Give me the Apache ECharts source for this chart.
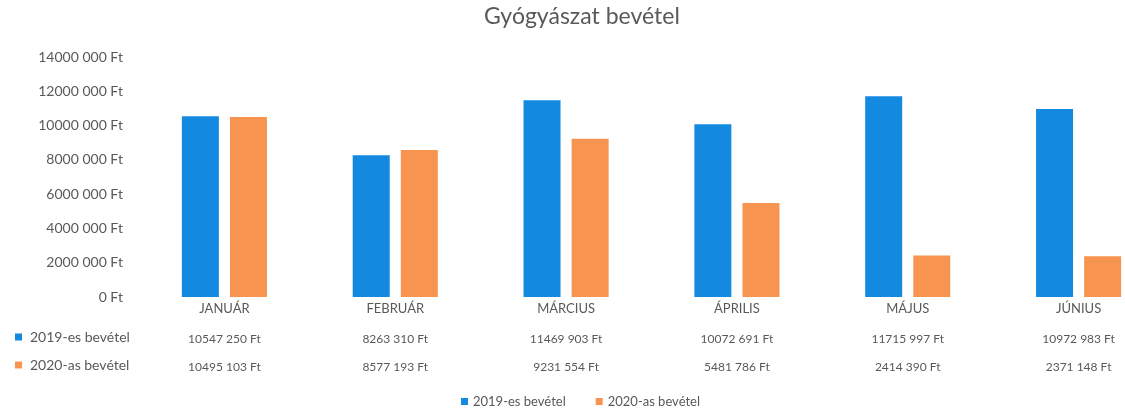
<!DOCTYPE html>
<html>
<head>
<meta charset="utf-8">
<title>Gyógyászat bevétel</title>
<script src="https://cdn.jsdelivr.net/npm/echarts@6/dist/echarts.min.js"></script>
<style>
  html, body { margin: 0; padding: 0; background: #fff; }
  #chart { width: 1125px; height: 411px; }
</style>
</head>
<body>
<div id="chart"></div>
<script>
// adatok
var months = ['JANUÁR', 'FEBRUÁR', 'MÁRCIUS', 'ÁPRILIS', 'MÁJUS', 'JÚNIUS'];
var rev2019 = [10547250, 8263310, 11469903, 10072691, 11715997, 10972983];
var rev2020 = [10495103, 8577193, 9231554, 5481786, 2414390, 2371148];
var seriesNames = ['2019-es bevétel', '2020-as bevétel'];
var yTicks = { min: 0, max: 14000000, interval: 2000000 };

var textColor = '#595959';
var font = 'Lato';

// "10547 250 Ft" formátum, ahogy a képen
function ft(v) {
  var s = String(Math.round(v));
  if (s.length > 3) s = s.slice(0, -3) + ' ' + s.slice(-3);
  return s + ' Ft';
}

var chart = echarts.init(document.getElementById('chart'));

// adattábla sorai: plusz kategória tengelyek eltolással
var tableAxis = function (values, offset) {
  return {
    type: 'category',
    gridIndex: 0,
    position: 'bottom',
    offset: offset,
    data: values.map(ft),
    axisLine: { show: false },
    axisTick: { show: false },
    axisLabel: { color: textColor, fontFamily: font, fontSize: 12, margin: 6, interval: 0 }
  };
};

var rowLegend = function (name, top) {
  return {
    data: [name],
    left: 15,
    top: top,
    padding: 0,
    icon: 'rect',
    itemWidth: 7,
    itemHeight: 7,
    selectedMode: false,
    textStyle: { color: textColor, fontFamily: font, fontSize: 14, padding: [0, 0, 0, 3] }
  };
};

var option = {
  color: ['#1489e0', '#f7944f'],
  textStyle: { fontFamily: font },
  title: {
    text: 'Gyógyászat bevétel',
    left: 484,
    top: 5,
    padding: 0,
    textStyle: { color: textColor, fontFamily: font, fontSize: 23, fontWeight: 'normal' }
  },
  legend: [
    rowLegend(seriesNames[0], 330),
    rowLegend(seriesNames[1], 358),
    {
      data: seriesNames,
      left: 461,
      bottom: 3,
      padding: 0,
      icon: 'rect',
      itemWidth: 7,
      itemHeight: 7,
      itemGap: 30,
      selectedMode: false,
      textStyle: { color: textColor, fontFamily: font, fontSize: 13 }
    }
  ],
  grid: {
    left: 139,
    top: 57,
    width: 1025,
    height: 240,
    outerBoundsMode: 'none',
    containLabel: false
  },
  xAxis: [
    {
      type: 'category',
      data: months,
      axisLine: { show: false },
      axisTick: { show: false },
      axisLabel: { color: textColor, fontFamily: font, fontSize: 13, margin: 5, interval: 0 }
    },
    tableAxis(rev2019, 30),
    tableAxis(rev2020, 58)
  ],
  yAxis: {
    type: 'value',
    min: yTicks.min,
    max: yTicks.max,
    interval: yTicks.interval,
    axisLine: { show: false },
    axisTick: { show: false },
    splitLine: { show: false },
    axisLabel: {
      color: textColor,
      fontFamily: font,
      fontSize: 14,
      margin: 16,
      formatter: ft
    }
  },
  series: [
    {
      name: seriesNames[0],
      type: 'bar',
      xAxisIndex: 0,
      data: rev2019,
      barWidth: 37,
      barGap: '30%'
    },
    {
      name: seriesNames[1],
      type: 'bar',
      xAxisIndex: 0,
      data: rev2020,
      barWidth: 37,
      barGap: '30%'
    }
  ]
};

chart.setOption(option);
window.addEventListener('resize', function () { chart.resize(); });
</script>
</body>
</html>
